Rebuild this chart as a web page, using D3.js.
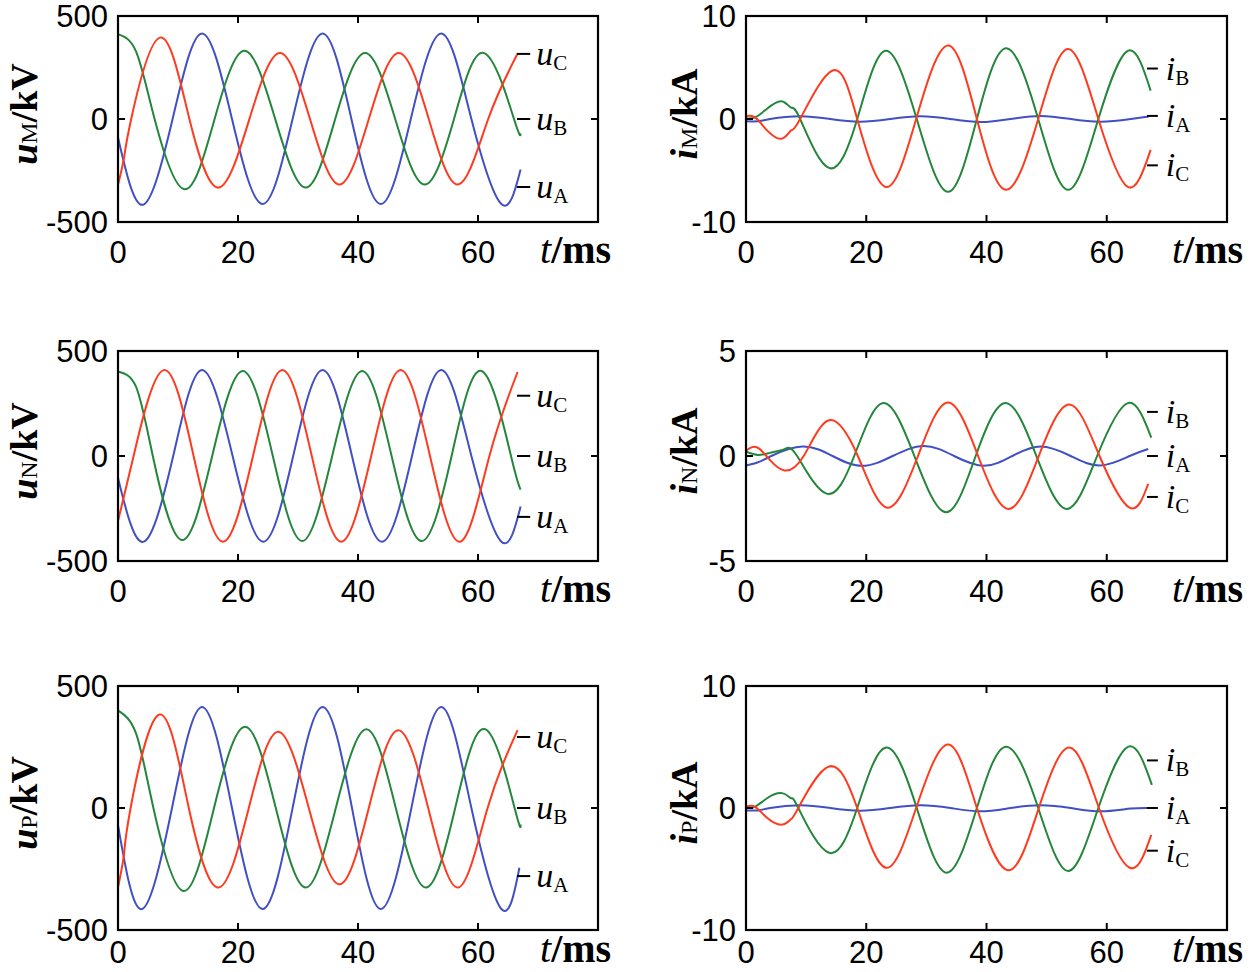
<!DOCTYPE html>
<html><head><meta charset="utf-8">
<script src="https://cdn.jsdelivr.net/npm/d3@7/dist/d3.min.js"></script>
<style>body{margin:0;background:#fff}</style>
</head><body>
<svg id="chart" width="1250" height="972"></svg>
<script>
// ---------- data (t in ms, value) ----------
const timeTicks = [0, 20, 40, 60];
const uTicks = [-500, 0, 500];
const iTicks10 = [-10, 0, 10];
const iTicks5 = [-5, 0, 5];

// uM (kV)
const uM_A = [[0,-90],[4.2,-416],[9.1,0],[14.0,415],[19.0,0],[24.1,-413],[29.1,0],[34.1,415],[38.9,0],[43.8,-413],[48.8,0],[53.9,415],[58.9,0],[63.9,-413],[67.1,-245]];
const uM_B = [[0,412],[3,328],[6.1,0],[11.1,-341],[16.1,0],[21.1,331],[26.2,0],[31.3,-333],[36.2,0],[41.2,320],[46.2,0],[51.1,-318],[56.0,0],[61.0,320],[66.0,0],[67.1,-70]];
const uM_C = [[0,-320],[1,-190],[2.2,0],[7.0,395],[11.9,0],[16.8,-333],[21.9,0],[27.0,320],[32.0,0],[36.9,-318],[41.8,0],[46.8,320],[51.8,0],[56.7,-318],[61.7,0],[66.6,318]];
// uN (kV)
const uN_A = [[0,-105],[4.3,-408],[9.2,0],[14.0,410],[19.1,0],[24.2,-408],[29.2,0],[34.1,410],[39.0,0],[44.0,-408],[49.0,0],[53.9,410],[58.9,0],[63.9,-408],[67.1,-241]];
const uN_B = [[0,402],[3,330],[5.8,0],[10.6,-400],[15.7,0],[20.8,405],[25.8,0],[30.7,-405],[35.7,0],[40.7,405],[45.6,0],[50.6,-405],[55.6,0],[60.6,405],[65.5,0],[67.1,-160]];
const uN_C = [[0,-310],[2.6,0],[7.6,409],[12.6,0],[17.5,-408],[22.5,0],[27.4,409],[32.3,0],[37.2,-408],[42.2,0],[47.1,409],[52.0,0],[57.0,-408],[61.9,0],[66.6,400]];
// uP (kV)
const uP_A = [[0,-70],[4.0,-414],[9.0,0],[14.0,414],[19.0,0],[24.1,-414],[29.1,0],[34.1,414],[39.0,0],[43.8,-414],[48.9,0],[53.9,414],[58.9,0],[63.9,-414],[66.9,-245]];
const uP_B = [[0,400],[3,306],[5.9,0],[10.9,-340],[16.0,0],[21.2,333],[26.3,0],[31.3,-326],[36.3,0],[41.4,323],[46.3,0],[51.3,-326],[56.2,0],[61.2,323],[66.1,0],[67.1,-68]];
const uP_C = [[0,-326],[1,-190],[2.1,0],[6.9,383],[11.8,0],[16.8,-326],[21.8,0],[26.7,313],[31.8,0],[36.9,-313],[41.8,0],[46.7,319],[51.7,0],[56.7,-326],[61.6,0],[66.6,319]];
// iM (kA)
const iM_A = [[0,-0.22],[2,-0.22],[4,0],[9,0.27],[14,0],[19,-0.27],[24,0],[29,0.27],[34,0],[39,-0.3],[44,0],[49,0.3],[54,0],[59,-0.27],[64,0],[67,0.25]];
const iM_B = [[0,0.05],[1.5,0.15],[3.5,1.0],[5.9,1.72],[7.5,1.1],[9.0,0],[13.8,-4.75],[18.5,0],[23.2,6.62],[28.4,0],[33.6,-7.07],[38.4,0],[43.3,6.88],[48.6,0],[53.6,-6.88],[58.6,0],[63.5,6.62],[67.3,2.75]];
const iM_C = [[0,0.3],[1,0.3],[2,-0.1],[3.5,-1.1],[5.9,-1.92],[7.5,-1.1],[9.0,0],[14.4,4.71],[18.5,0],[23.3,-6.6],[28.3,0],[33.6,7.13],[38.4,0],[43.3,-6.88],[48.6,0],[53.6,6.8],[58.6,0],[63.5,-6.6],[67.3,-3.0]];
// iN (kA)
const iN_A = [[0,-0.45],[2,-0.3],[4.2,0],[9.4,0.45],[14.4,0],[19.3,-0.47],[24.4,0],[29.6,0.48],[34.6,0],[39.6,-0.47],[44.3,0],[49,0.45],[54,0],[58.9,-0.45],[63.8,0],[66.9,0.33]];
const iN_B = [[0,0.2],[2,0.05],[4,0.15],[6.4,0.33],[8.5,0],[13.4,-1.79],[18.0,0],[22.8,2.52],[28.0,0],[33.3,-2.68],[38.2,0],[43.2,2.52],[48.3,0],[53.4,-2.52],[58.4,0],[63.5,2.52],[67.4,0.88]];
const iN_C = [[0,0.25],[1,0.42],[2.2,0.35],[4,-0.2],[6.4,-0.69],[9.6,0],[13.8,1.7],[18.6,0],[23.5,-2.46],[28.6,0],[33.6,2.55],[38.6,0],[43.7,-2.52],[48.7,0],[53.8,2.45],[58.8,0],[63.8,-2.46],[66.9,-1.32]];
// iP (kA)
const iP_A = [[0,-0.2],[2,-0.2],[4,0],[9,0.22],[14,0],[19,-0.22],[24,0],[29,0.22],[34,0],[39,-0.27],[44,0],[49,0.22],[54,0],[59,-0.27],[64,-0.05],[67.3,0]];
const iP_B = [[0,0.05],[1.5,0.1],[3.5,0.8],[6.0,1.22],[7.5,0.8],[8.7,0],[13.8,-3.67],[18.5,0],[23.3,4.95],[28.4,0],[33.4,-5.3],[38.4,0],[43.3,5.03],[48.6,0],[53.6,-5.16],[58.6,0],[63.6,5.03],[67.5,1.9]];
const iP_C = [[0,0.1],[1.5,0.1],[3.5,-0.8],[6.0,-1.36],[7.5,-0.9],[8.7,0],[13.8,3.4],[18.5,0],[23.3,-4.9],[28.3,0],[33.6,5.2],[38.4,0],[43.7,-5.1],[48.7,0],[53.8,4.95],[58.7,0],[63.8,-4.9],[67.4,-2.2]];

// legend label anchor values (same units as each panel)
const uM_labels = [316, 0, -330];
const uN_labels = [287, 0, -290];
const uP_labels = [291, 0, -279];
const iM_labels = [4.9, 0.3, -4.5];
const iN_labels = [2.1, 0, -1.95];
const iP_labels = [3.9, 0, -3.5];

// ---------- styling / layout ----------
const BLUE = "#4050c4", GREEN = "#23863a", RED = "#ff3a1e";
const SERIF = "'Liberation Serif','Times New Roman',serif";
const SANS = "'Liberation Sans',Arial,sans-serif";
const cols = [{l:118, r:598}, {l:746, r:1227}];
const rows = [{t:16, b:222}, {t:351, b:561}, {t:686, b:930}];

const panels = [
  {col:0,row:0,dom:[-500,500],ticks:uTicks,sym:"u",sub:"M",unit:"kV",
   series:[{d:uM_C,c:RED,n:"C"},{d:uM_B,c:GREEN,n:"B"},{d:uM_A,c:BLUE,n:"A"}],labs:uM_labels},
  {col:1,row:0,dom:[-10,10],ticks:iTicks10,sym:"i",sub:"M",unit:"kA",
   series:[{d:iM_B,c:GREEN,n:"B"},{d:iM_A,c:BLUE,n:"A"},{d:iM_C,c:RED,n:"C"}],labs:iM_labels},
  {col:0,row:1,dom:[-500,500],ticks:uTicks,sym:"u",sub:"N",unit:"kV",
   series:[{d:uN_C,c:RED,n:"C"},{d:uN_B,c:GREEN,n:"B"},{d:uN_A,c:BLUE,n:"A"}],labs:uN_labels},
  {col:1,row:1,dom:[-5,5],ticks:iTicks5,sym:"i",sub:"N",unit:"kA",
   series:[{d:iN_B,c:GREEN,n:"B"},{d:iN_A,c:BLUE,n:"A"},{d:iN_C,c:RED,n:"C"}],labs:iN_labels},
  {col:0,row:2,dom:[-500,500],ticks:uTicks,sym:"u",sub:"P",unit:"kV",
   series:[{d:uP_C,c:RED,n:"C"},{d:uP_B,c:GREEN,n:"B"},{d:uP_A,c:BLUE,n:"A"}],labs:uP_labels},
  {col:1,row:2,dom:[-10,10],ticks:iTicks10,sym:"i",sub:"P",unit:"kA",
   series:[{d:iP_B,c:GREEN,n:"B"},{d:iP_A,c:BLUE,n:"A"},{d:iP_C,c:RED,n:"C"}],labs:iP_labels}
];

const svg = d3.select("#chart");
svg.append("rect").attr("width",1250).attr("height",972).attr("fill","#fff");

panels.forEach(p => {
  const c = cols[p.col], r = rows[p.row];
  const x = d3.scaleLinear().domain([0,80]).range([c.l,c.r]);
  const y = d3.scaleLinear().domain(p.dom).range([r.b,r.t]);
  const g = svg.append("g");

  const line = d3.line().x(d=>x(d[0])).y(d=>y(d[1])).curve(d3.curveNatural);
  ["A","B","C"].forEach(n => {
    const s = p.series.find(s=>s.n===n);
    g.append("path").datum(s.d).attr("d",line)
      .attr("fill","none").attr("stroke",s.c).attr("stroke-width",2)
      .attr("stroke-linejoin","round");
  });

  // box
  g.append("rect").attr("x",c.l).attr("y",r.t).attr("width",c.r-c.l).attr("height",r.b-r.t)
    .attr("fill","none").attr("stroke","#000").attr("stroke-width",2.2);

  // inward ticks
  const tl = 7;
  const labY = Math.min(r.b+41, 963);
  p.ticks.forEach(v => {
    g.append("line").attr("x1",c.l).attr("x2",c.l+tl).attr("y1",y(v)).attr("y2",y(v)).attr("stroke","#000").attr("stroke-width",2);
    g.append("line").attr("x1",c.r).attr("x2",c.r-tl).attr("y1",y(v)).attr("y2",y(v)).attr("stroke","#000").attr("stroke-width",2);
    g.append("text").attr("x",c.l-10).attr("y",y(v)).attr("dy","0.36em")
      .attr("text-anchor","end").attr("font-family",SANS).attr("font-size",31)
      .text(String(v));
  });
  timeTicks.forEach(v => {
    g.append("line").attr("x1",x(v)).attr("x2",x(v)).attr("y1",r.b).attr("y2",r.b-tl).attr("stroke","#000").attr("stroke-width",2);
    g.append("line").attr("x1",x(v)).attr("x2",x(v)).attr("y1",r.t).attr("y2",r.t+tl).attr("stroke","#000").attr("stroke-width",2);
    g.append("text").attr("x",x(v)).attr("y",labY)
      .attr("text-anchor","middle").attr("font-family",SANS).attr("font-size",31)
      .text(String(v));
  });

  // t/ms label
  const tl2 = g.append("text").attr("x",c.r-(p.col===0?58:55)).attr("y",Math.min(r.b+41,962))
    .attr("font-family",SERIF).attr("font-size",40);
  tl2.append("tspan").attr("font-style","italic").text("t");
  tl2.append("tspan").attr("font-weight","bold").text("/ms");

  // y label
  const cy = (r.t+r.b)/2 - 5;
  const bx = p.col===0 ? 37 : 697;
  const yl = g.append("text").attr("transform",`translate(${bx},${cy}) rotate(-90)`)
    .attr("text-anchor","middle").attr("font-family",SERIF).attr("font-size",38).attr("font-weight","bold");
  yl.append("tspan").attr("font-style","italic").text(p.sym);
  yl.append("tspan").attr("font-size",24).attr("font-weight","normal").text(p.sub);
  yl.append("tspan").text("/" + p.unit);

  // series labels
  const lx1 = p.col===0 ? x(66.5) : x(66.7);
  const lx2 = p.col===0 ? x(68.7) : x(68.5);
  const labOrder = p.sym==="u" ? ["C","B","A"] : ["B","A","C"];
  labOrder.forEach((n,k) => {
    const yy = y(p.labs[k]);
    g.append("line").attr("x1",lx1).attr("x2",lx2).attr("y1",yy).attr("y2",yy)
      .attr("stroke","#000").attr("stroke-width",2);
    const t = g.append("text").attr("x",lx2+(p.col===0?6:8)).attr("y",yy+11)
      .attr("font-family",SERIF).attr("font-size",34);
    t.append("tspan").attr("font-style","italic").text(p.sym);
    t.append("tspan").attr("font-size",21).attr("dy",5).text(n);
  });
});
</script>
</body></html>
